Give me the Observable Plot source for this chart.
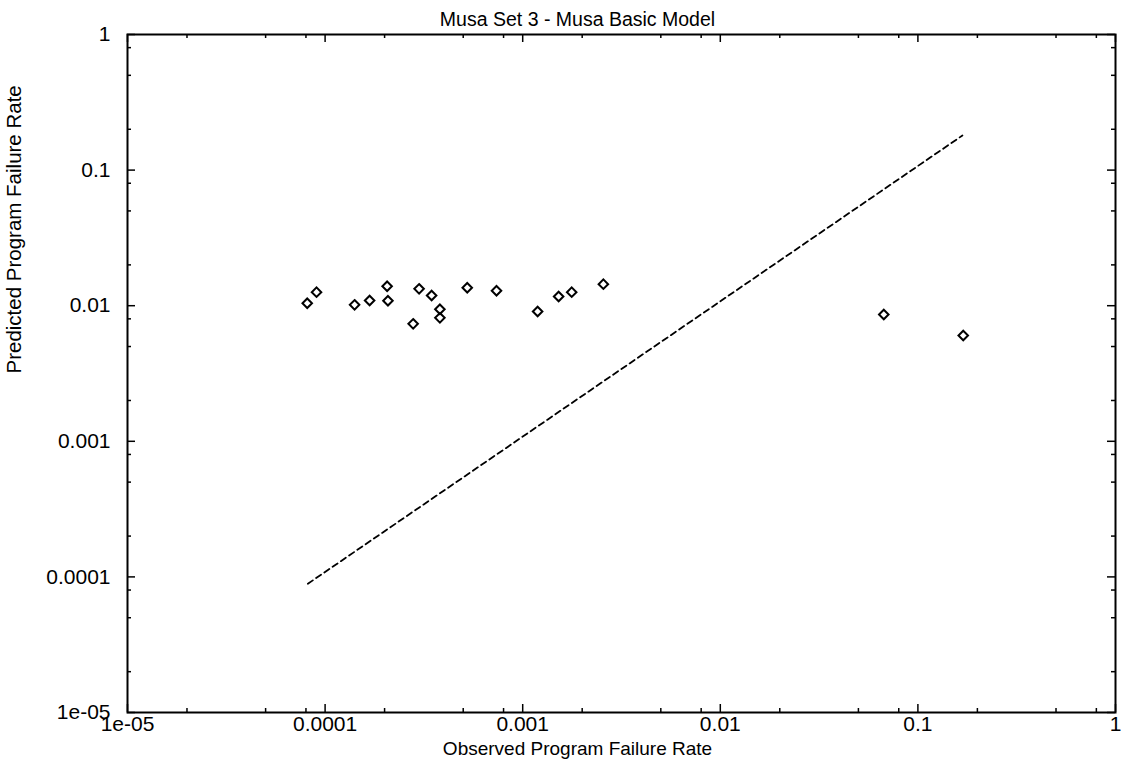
<!DOCTYPE html>
<html>
<head>
<meta charset="utf-8">
<script src="https://cdn.jsdelivr.net/npm/d3@7"></script>
<script src="https://cdn.jsdelivr.net/npm/@observablehq/plot@0.6"></script>
<style>
  html, body { margin: 0; padding: 0; background: white; }
</style>
</head>
<body>
<div id="chart"></div>
<script>
// Observed vs predicted program failure rates
const observed = [8.12e-5, 9.05e-5, 1.41e-4, 1.68e-4, 2.06e-4, 2.08e-4, 2.79e-4, 2.99e-4, 3.46e-4, 3.81e-4, 3.81e-4, 5.24e-4, 7.37e-4, 1.19e-3, 1.52e-3, 1.77e-3, 2.56e-3, 0.0672, 0.1696];
const predicted = [0.01043, 0.01258, 0.01015, 0.01092, 0.01392, 0.01087, 0.00735, 0.01332, 0.01189, 0.00942, 0.00814, 0.01355, 0.01288, 0.00906, 0.01169, 0.01258, 0.01441, 0.00861, 0.00603];

// Reference (dashed) line end points
const lineX = [8.18e-5, 0.168];
const lineY = [8.9e-5, 0.18];

// Axis ticks
const majorTicks = [1e-5, 1e-4, 1e-3, 1e-2, 1e-1, 1];
const majorLabels = ["1e-05", "0.0001", "0.001", "0.01", "0.1", "1"];
const minorMultipliers = [2, 5, 8];
const minorTicks = majorTicks.slice(0, -1).flatMap(d => minorMultipliers.map(m => d * m));

const title = "Musa Set 3 - Musa Basic Model";
const xLabel = "Observed Program Failure Rate";
const yLabel = "Predicted Program Failure Rate";

const points = observed.map((x, i) => ({x, y: predicted[i]}));
const line = lineX.map((x, i) => ({x, y: lineY[i]}));
const ticks = majorTicks.map((v, i) => ({v, label: majorLabels[i]}));

const W = 1121, H = 764, mL = 127, mR = 6, mT = 34, mB = 52;
const pw = W - mL - mR, ph = H - mT - mB;
const majorLen = 8, minorLen = 4;

const chart = Plot.plot({
  width: W, height: H,
  marginLeft: mL, marginRight: mR, marginTop: mT, marginBottom: mB,
  x: {type: "log", domain: [1e-5, 1], axis: null},
  y: {type: "log", domain: [1e-5, 1], axis: null},
  style: {fontFamily: "'Liberation Sans', Arial, sans-serif", fontSize: "18px", color: "black", background: "white"},
  marks: [
    // inward ticks on all four sides
    Plot.ruleX(majorTicks, {x: d => d, insetTop: ph - majorLen, stroke: "black", strokeWidth: 1.5}),
    Plot.ruleX(majorTicks, {x: d => d, insetBottom: ph - majorLen, stroke: "black", strokeWidth: 1.5}),
    Plot.ruleX(minorTicks, {x: d => d, insetTop: ph - minorLen, stroke: "black", strokeWidth: 1.5}),
    Plot.ruleX(minorTicks, {x: d => d, insetBottom: ph - minorLen, stroke: "black", strokeWidth: 1.5}),
    Plot.ruleY(majorTicks, {y: d => d, insetRight: pw - majorLen, stroke: "black", strokeWidth: 1.5}),
    Plot.ruleY(majorTicks, {y: d => d, insetLeft: pw - majorLen, stroke: "black", strokeWidth: 1.5}),
    Plot.ruleY(minorTicks, {y: d => d, insetRight: pw - minorLen, stroke: "black", strokeWidth: 1.5}),
    Plot.ruleY(minorTicks, {y: d => d, insetLeft: pw - minorLen, stroke: "black", strokeWidth: 1.5}),
    Plot.frame({stroke: "black", strokeWidth: 2}),
    // tick labels
    Plot.text(ticks, {x: "v", text: "label", frameAnchor: "bottom", dy: 18, fontSize: 21, fill: "black"}),
    Plot.text(ticks, {y: "v", text: "label", frameAnchor: "left", dx: -17, textAnchor: "end", fontSize: 21, fill: "black"}),
    // dashed reference line
    Plot.line(line, {x: "x", y: "y", stroke: "black", strokeWidth: 1.8, strokeDasharray: "6,4"}),
    // data points
    Plot.dot(points, {x: "x", y: "y", symbol: "diamond2", r: 4.3, stroke: "black", strokeWidth: 2, fill: "none"}),
    // title and axis labels
    Plot.text([title], {text: d => d, frameAnchor: "top", dx: -44, dy: -22, fontSize: 19.5}),
    Plot.text([xLabel], {text: d => d, frameAnchor: "bottom", dx: -44, dy: 42, fontSize: 19}),
    Plot.text([yLabel], {text: d => d, frameAnchor: "left", dx: -113, rotate: -90, fontSize: 20.5})
  ]
});
document.getElementById("chart").appendChild(chart);
</script>
</body>
</html>
